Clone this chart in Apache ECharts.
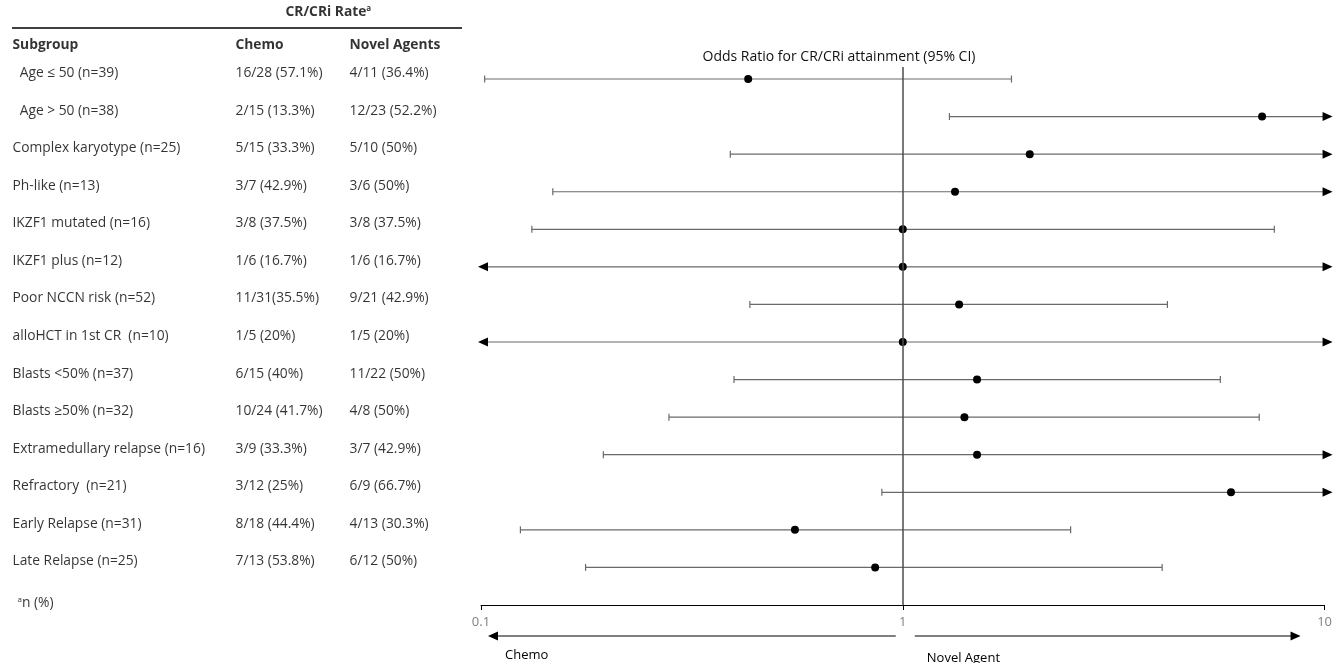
<!DOCTYPE html>
<html><head><meta charset="utf-8">
<script src="https://cdn.jsdelivr.net/npm/echarts@6/dist/echarts.min.js"></script>
<style>html,body{margin:0;padding:0;background:#fff}#c{width:1335px;height:663px}</style>
</head><body><div id="c"></div><script>
// ---- data ----
const subgroups = ['  Age \u2264 50 (n=39)', '  Age > 50 (n=38)', 'Complex karyotype (n=25)', 'Ph-like (n=13)',
  'IKZF1 mutated (n=16)', 'IKZF1 plus (n=12)', 'Poor NCCN risk (n=52)', 'alloHCT in 1st CR  (n=10)',
  'Blasts <50% (n=37)', 'Blasts \u226550% (n=32)', 'Extramedullary relapse (n=16)', 'Refractory  (n=21)',
  'Early Relapse (n=31)', 'Late Relapse (n=25)'];
const chemoRates = ['16/28 (57.1%)', '2/15 (13.3%)', '5/15 (33.3%)', '3/7 (42.9%)', '3/8 (37.5%)', '1/6 (16.7%)',
  '11/31(35.5%)', '1/5 (20%)', '6/15 (40%)', '10/24 (41.7%)', '3/9 (33.3%)', '3/12 (25%)', '8/18 (44.4%)', '7/13 (53.8%)'];
const novelRates = ['4/11 (36.4%)', '12/23 (52.2%)', '5/10 (50%)', '3/6 (50%)', '3/8 (37.5%)', '1/6 (16.7%)',
  '9/21 (42.9%)', '1/5 (20%)', '11/22 (50%)', '4/8 (50%)', '3/7 (42.9%)', '6/9 (66.7%)', '4/13 (30.3%)', '6/12 (50%)'];
const oddsRatio = [0.43, 7.11, 2.0, 1.33, 1.0, 1.0, 1.36, 1.0, 1.5, 1.40, 1.5, 6.0, 0.555, 0.86];
// null = interval extends beyond the axis (drawn as an arrow)
const lowCI  = [0.102, 1.29, 0.39, 0.148, 0.132, null, 0.434, null, 0.398, 0.279, 0.195, 0.892, 0.124, 0.177];
const highCI = [1.81, null, null, null, 7.6, null, 4.24, null, 5.66, 7.0, null, null, 2.5, 4.12];
const xTicks = [0.1, 1, 10];
const headerCols = ['Subgroup', 'Chemo', 'Novel Agents'];
const groupHeader = 'CR/CRi Rate';
const footnote = 'n (%)';
const plotTitle = 'Odds Ratio for CR/CRi attainment (95% CI)';
const sideLabels = ['Chemo', 'Novel Agent'];

// ---- layout ----
const FONT = 'Open Sans';
const FS = 13.8;
const colX = [12, 235, 349];
const yMin = -0.32, yMax = 14;
const chart = echarts.init(document.getElementById('c'), null, {renderer: 'canvas'});

function textSeries(items, bold, offY) {
  return {
    type: 'scatter', xAxisIndex: 1, yAxisIndex: 1, symbolSize: 1, clip: false, silent: true,
    itemStyle: {color: 'transparent'},
    label: {show: true, position: 'right', distance: 0, offset: [0, offY], formatter: '{b}',
      color: '#000', fontFamily: FONT, fontSize: FS, fontWeight: bold ? 'bold' : 'normal',
      rich: {s: {fontSize: 8, fontFamily: FONT, fontWeight: bold ? 'bold' : 'normal', color: '#000', verticalAlign: 'top', padding: [0, 0, 6, 0]},
             t: {fontSize: FS, fontFamily: FONT, fontWeight: bold ? 'bold' : 'normal', color: '#000'}}},
    data: items
  };
}

const rowItems = [];
subgroups.forEach((s, i) => {
  rowItems.push({name: s, value: [colX[0], i]});
  rowItems.push({name: chemoRates[i], value: [colX[1], i]});
  rowItems.push({name: novelRates[i], value: [colX[2], i]});
});
const headItems = headerCols.map((h, k) => ({name: h, value: [colX[k], -0.9]}));
headItems.push({name: '{t|' + groupHeader + '}{s|a}', value: [285, -1.78]});
const footItems = [{name: '{s|a}{t|' + footnote + '}', value: [17, 13.95]}];

const option = {
  animation: false,
  title: {text: plotTitle, left: 834, top: 45, textAlign: 'center',
    textStyle: {fontFamily: FONT, fontSize: 14, fontWeight: 'normal', color: '#111'}},
  grid: [
    {left: 481, right: 9, top: 67, bottom: 58},
    {left: 0, width: 470, top: 67, bottom: 58}
  ],
  xAxis: [
    {type: 'log', logBase: 10, min: 0.1, max: 10, gridIndex: 0, position: 'bottom',
      axisLine: {show: true, onZero: false, lineStyle: {color: '#000', width: 1}},
      axisTick: {show: true, length: 5, lineStyle: {color: '#000'}},
      axisLabel: {color: '#808080', fontFamily: FONT, fontSize: 13, margin: 11,
        customValues: xTicks, formatter: v => String(+v.toPrecision(2))},
      splitLine: {show: false}, minorTick: {show: false}},
    {type: 'value', min: 0, max: 470, gridIndex: 1, show: false}
  ],
  yAxis: [
    {type: 'value', inverse: true, min: yMin, max: yMax, gridIndex: 0, show: false},
    {type: 'value', inverse: true, min: yMin, max: yMax, gridIndex: 1, show: false}
  ],
  series: [
    {
      type: 'custom', xAxisIndex: 0, yAxisIndex: 0, clip: false, silent: true,
      data: oddsRatio.map((v, i) => [v, i]),
      renderItem(params, api) {
        const i = params.dataIndex;
        const y = api.coord([1, i])[1];
        const xMinP = api.coord([0.1, i])[0], xMaxP = api.coord([10, i])[0];
        const hasL = lowCI[i] != null, hasH = highCI[i] != null;
        const xl = hasL ? api.coord([lowCI[i], i])[0] : xMinP - 3;
        const xh = hasH ? api.coord([highCI[i], i])[0] : xMaxP + 8;
        const xp = api.coord([oddsRatio[i], i])[0];
        const stroke = {stroke: '#6a6a6a', lineWidth: 1.2};
        const ch = [];
        ch.push({type: 'line', shape: {x1: hasL ? xl : xl + 9, y1: y, x2: hasH ? xh : xh - 9, y2: y}, style: stroke});
        if (hasL) ch.push({type: 'line', shape: {x1: xl, y1: y - 3.5, x2: xl, y2: y + 3.5}, style: stroke});
        else ch.push({type: 'polygon', shape: {points: [[xl, y], [xl + 10, y - 4.5], [xl + 10, y + 4.5]]}, style: {fill: '#000'}});
        if (hasH) ch.push({type: 'line', shape: {x1: xh, y1: y - 3.5, x2: xh, y2: y + 3.5}, style: stroke});
        else ch.push({type: 'polygon', shape: {points: [[xh, y], [xh - 10, y - 4.5], [xh - 10, y + 4.5]]}, style: {fill: '#000'}});
        ch.push({type: 'circle', shape: {cx: xp, cy: y, r: 4}, style: {fill: '#000'}});
        return {type: 'group', children: ch};
      },
      markLine: {silent: true, symbol: 'none', label: {show: false},
        lineStyle: {color: '#4d4d4d', width: 1.5, type: 'solid'},
        data: [{xAxis: 1}]}
    },
    textSeries(rowItems, false, -6),
    textSeries(headItems, true, 0),
    textSeries(footItems, false, 0)
  ]
};
chart.setOption(option);

// header rule + direction arrows (annotations placed from the axis scales)
const p = v => chart.convertToPixel({xAxisIndex: 0}, v);
const axisY = chart.convertToPixel({yAxisIndex: 0}, yMax);
const tY = chart.convertToPixel({yAxisIndex: 1}, -1.36);
const ay = axisY + 31;
const x01 = p(0.1), x1 = p(1), x10 = p(10);
chart.setOption({
  graphic: [
    {type: 'line', shape: {x1: 12, y1: tY, x2: 462, y2: tY}, style: {stroke: '#000', lineWidth: 1.5}, silent: true},
    {type: 'line', shape: {x1: x1 - 7, y1: ay, x2: x01 + 16, y2: ay}, style: {stroke: '#000', lineWidth: 1}, silent: true},
    {type: 'polygon', shape: {points: [[x01 + 7, ay], [x01 + 17, ay - 4.5], [x01 + 17, ay + 4.5]]}, style: {fill: '#000'}, silent: true},
    {type: 'line', shape: {x1: x1 + 12, y1: ay, x2: x10 - 32, y2: ay}, style: {stroke: '#000', lineWidth: 1}, silent: true},
    {type: 'polygon', shape: {points: [[x10 - 24, ay], [x10 - 34, ay - 4.5], [x10 - 34, ay + 4.5]]}, style: {fill: '#000'}, silent: true},
    {type: 'text', x: x01 + 24, y: ay + 19, style: {text: sideLabels[0], fontFamily: FONT, fontSize: 13, fill: '#000', verticalAlign: 'middle'}, silent: true},
    {type: 'text', x: x1 + 24, y: ay + 22, style: {text: sideLabels[1], fontFamily: FONT, fontSize: 13, fill: '#000', verticalAlign: 'middle'}, silent: true}
  ]
});
</script></body></html>
